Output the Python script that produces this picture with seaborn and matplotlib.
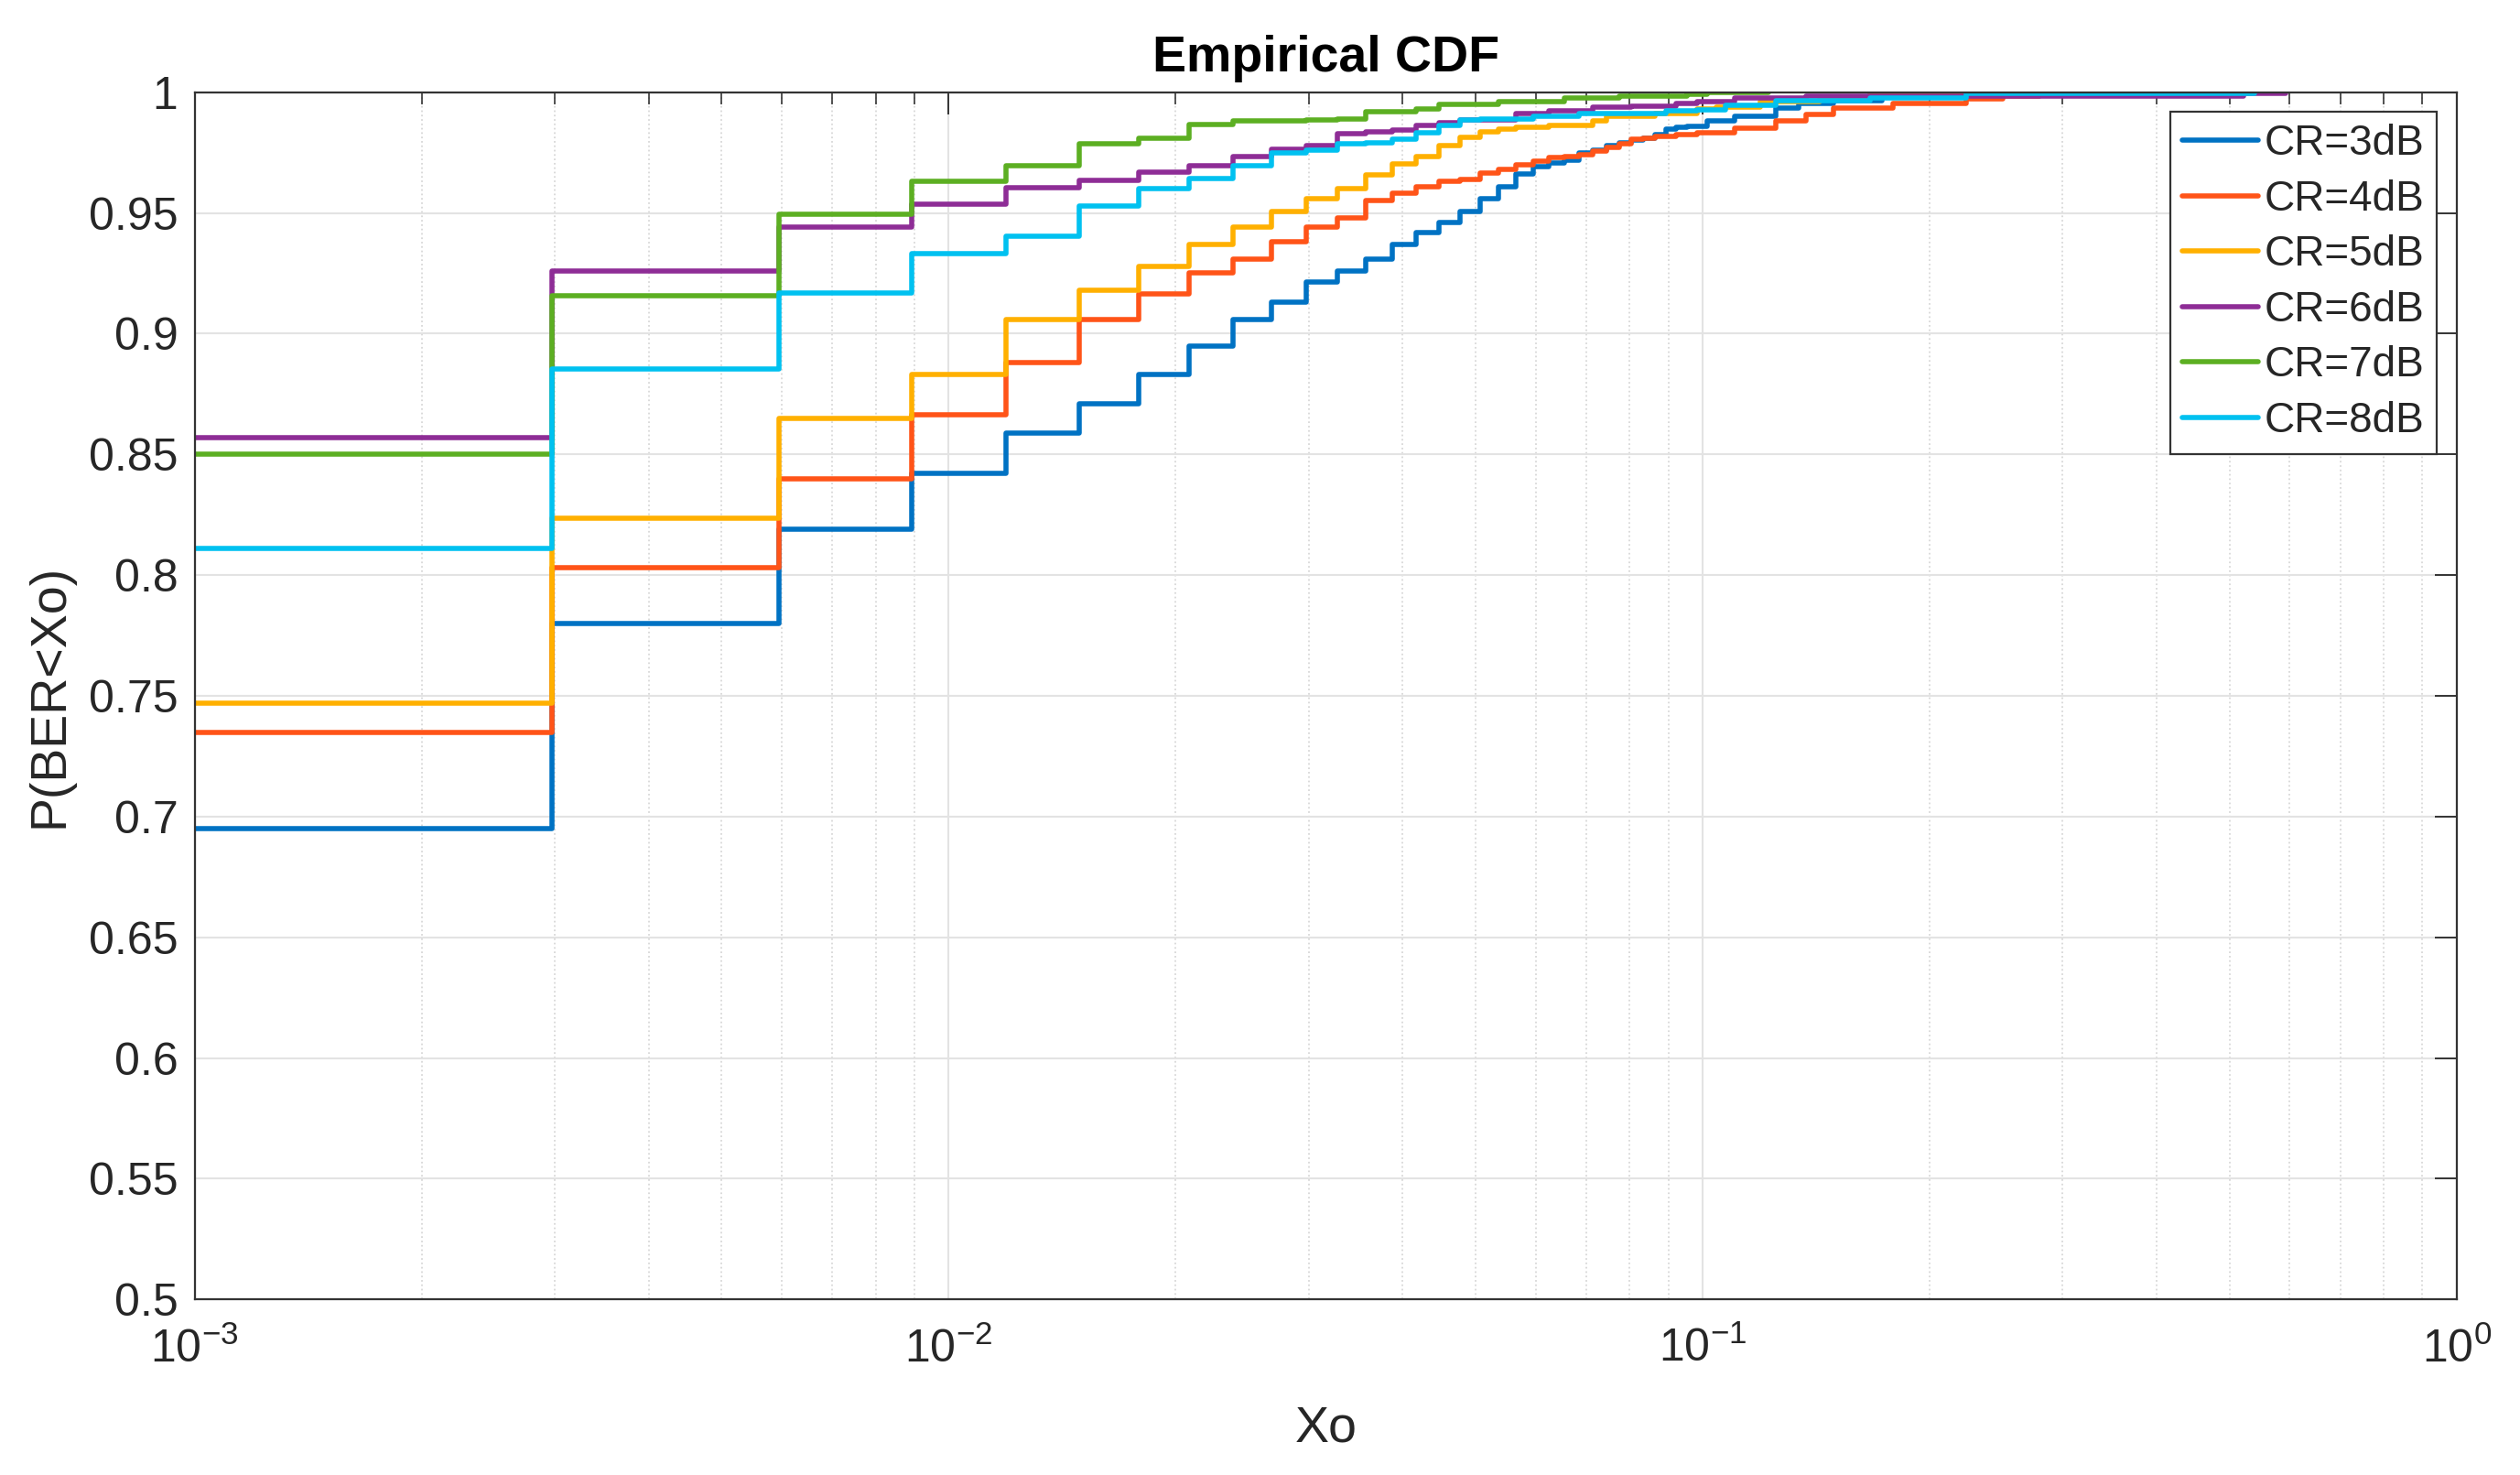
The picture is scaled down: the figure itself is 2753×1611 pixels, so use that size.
import pandas as pd
import matplotlib
matplotlib.use('Agg')
import matplotlib.pyplot as plt
import seaborn as sns
from matplotlib.ticker import LogLocator, NullFormatter, FixedLocator, FuncFormatter

# BER is error count / number of bits per frame
N_BITS = 336

cr_labels = ['CR=3dB', 'CR=4dB', 'CR=5dB', 'CR=6dB', 'CR=7dB', 'CR=8dB']
cr_colors = ['#0072C3', '#FF5418', '#FFB000', '#8E2D96', '#5CAF22', '#00C1F0']

# error counts where each empirical CDF steps, and the CDF value after the step
err_3db = [0, 1, 2, 3, 4, 5, 6, 7, 8, 9, 10, 11, 12, 13, 14, 15, 16, 17, 18, 19, 20,
           21, 22, 23, 24, 25, 26, 27, 28, 29, 30, 31, 32, 34, 37, 42, 45, 50, 58, 70, 88]
cdf_3db = [0.695, 0.780, 0.819, 0.842, 0.859, 0.871, 0.883, 0.895, 0.906, 0.913, 0.9215,
           0.926, 0.931, 0.937, 0.942, 0.946, 0.9505, 0.956, 0.961, 0.966, 0.969,
           0.9705, 0.972, 0.975, 0.976, 0.978, 0.979, 0.980, 0.981, 0.9825, 0.9848,
           0.9855, 0.986, 0.988, 0.990, 0.9933, 0.9952, 0.9966, 0.998, 0.9992, 1.0]

err_4db = [0, 1, 2, 3, 4, 5, 6, 7, 8, 9, 10, 11, 12, 13, 14, 15, 16, 17, 18, 19, 20,
           21, 22, 23, 24, 25, 26, 27, 28, 29, 31, 33, 37, 42, 46, 50, 60, 75, 84, 94]
cdf_4db = [0.735, 0.803, 0.840, 0.8665, 0.888, 0.906, 0.9165, 0.925, 0.931, 0.938, 0.944,
           0.948, 0.955, 0.958, 0.961, 0.963, 0.964, 0.9665, 0.968, 0.970, 0.9715,
           0.9728, 0.9734, 0.9741, 0.9757, 0.9772, 0.9785, 0.9804, 0.981, 0.9817, 0.9823,
           0.9832, 0.9851, 0.9882, 0.9908, 0.9933, 0.9952, 0.9971, 0.9985, 1.0]

err_5db = [0, 1, 2, 3, 4, 5, 6, 7, 8, 9, 10, 11, 12, 13, 14, 15, 16, 17, 18, 19, 21,
           24, 25, 29, 33, 35, 40, 48, 56, 102]
cdf_5db = [0.747, 0.8235, 0.865, 0.883, 0.906, 0.918, 0.928, 0.937, 0.944, 0.9505, 0.956,
           0.960, 0.9658, 0.9703, 0.9734, 0.9779, 0.9813, 0.9836, 0.9846, 0.9855, 0.9861,
           0.988, 0.990, 0.9912, 0.993, 0.994, 0.996, 0.998, 0.9995, 1.0]

err_6db = [0, 1, 2, 3, 4, 5, 6, 7, 8, 9, 10, 11, 12, 13, 14, 15, 16, 19, 21, 24, 27,
           31, 33, 37, 46, 175, 199]
cdf_6db = [0.857, 0.926, 0.944, 0.9537, 0.9605, 0.9633, 0.967, 0.9696, 0.9732, 0.9762,
           0.9779, 0.9829, 0.9836, 0.9842, 0.9861, 0.9874, 0.9886, 0.9912, 0.9922, 0.9937,
           0.9943, 0.9952, 0.9962, 0.9977, 0.9985, 0.9996, 1.0]

err_7db = [0, 1, 2, 3, 4, 5, 6, 7, 8, 10, 11, 12, 14, 15, 18, 22, 26, 32, 34, 41]
cdf_7db = [0.850, 0.9157, 0.9496, 0.963, 0.9694, 0.9788, 0.9809, 0.9865, 0.9881, 0.9884,
           0.9889, 0.9918, 0.993, 0.995, 0.9962, 0.9977, 0.9984, 0.9993, 0.9997, 1.0]

err_8db = [0, 1, 2, 3, 4, 5, 6, 7, 8, 9, 10, 11, 12, 13, 14, 15, 16, 17, 20, 23, 30,
           33, 36, 42, 56, 75, 181]
cdf_8db = [0.811, 0.8854, 0.9167, 0.9332, 0.9405, 0.9528, 0.960, 0.9643, 0.9696, 0.9747,
           0.976, 0.9785, 0.9791, 0.9804, 0.9833, 0.9861, 0.9884, 0.9889, 0.990, 0.9912,
           0.9922, 0.9927, 0.9946, 0.9965, 0.9977, 0.9994, 1.0]

y_ticks = [0.5, 0.55, 0.6, 0.65, 0.7, 0.75, 0.8, 0.85, 0.9, 0.95, 1.0]

series = [(err_3db, cdf_3db), (err_4db, cdf_4db), (err_5db, cdf_5db),
          (err_6db, cdf_6db), (err_7db, cdf_7db), (err_8db, cdf_8db)]
frames = []
for label, (errs, cdf) in zip(cr_labels, series):
    frames.append(pd.DataFrame({'Xo': [e / N_BITS for e in errs], 'P': cdf, 'CR': label}))
df = pd.concat(frames, ignore_index=True)

sns.set_theme(style='white')
plt.rcParams['font.family'] = ['Liberation Sans', 'DejaVu Sans']
plt.rcParams['mathtext.fontset'] = 'custom'
plt.rcParams['mathtext.rm'] = 'Liberation Sans'
plt.rcParams['mathtext.it'] = 'Liberation Sans:italic'
plt.rcParams['mathtext.bf'] = 'Liberation Sans:bold'

fig = plt.figure(figsize=(27.53, 16.11), dpi=100)
ax = fig.add_axes([0.0772, 0.1190, 0.8978, 0.8185])

sns.lineplot(data=df, x='Xo', y='P', hue='CR', hue_order=cr_labels, palette=cr_colors,
             estimator=None, sort=False, drawstyle='steps-post', linewidth=4,
             legend=False, ax=ax)

ax.set_xscale('log')
ax.set_xlim(1e-3, 1)
ax.set_ylim(0.5, 1)
ax.yaxis.set_major_locator(FixedLocator(y_ticks))
ax.yaxis.set_major_formatter(FuncFormatter(lambda v, p: '%g' % v))
ax.xaxis.set_major_locator(LogLocator(base=10, numticks=10))
ax.xaxis.set_minor_locator(LogLocator(base=10, subs=range(2, 10), numticks=20))
ax.xaxis.set_minor_formatter(NullFormatter())

ax.grid(which='major', color='#e3e3e3', linewidth=1.5, linestyle='-')
ax.grid(which='minor', axis='x', color='#d8d8d8', linewidth=1.3, linestyle=':')
ax.set_axisbelow(True)

for sp in ax.spines.values():
    sp.set_color('#333333')
    sp.set_linewidth(1.6)
ax.tick_params(which='both', direction='in', top=True, right=True, colors='#262626')
ax.tick_params(which='major', length=17, width=1.3, labelsize=36)
ax.tick_params(which='minor', length=9, width=1.1)
ax.tick_params(axis='x', which='major', pad=22)
ax.tick_params(axis='y', which='major', pad=13)

ax.set_xlabel('Xo', fontsize=40, color='#262626', labelpad=26)
ax.set_ylabel('P(BER<Xo)', fontsize=40, color='#262626', labelpad=12)
ax.set_title('Empirical CDF', fontsize=40, fontweight='bold', color='black', pad=16)

handles = ax.get_lines()[:len(cr_labels)]
leg = ax.legend(handles, cr_labels, loc='upper right', bbox_to_anchor=(0.9911, 0.9841),
                fontsize=33, frameon=True, fancybox=False, framealpha=1,
                edgecolor='#333333', borderpad=0.3, labelspacing=0.36,
                handlelength=1.8, handletextpad=0.15, borderaxespad=0)
leg.get_frame().set_linewidth(1.6)

fig.savefig('out.png', dpi=100)
